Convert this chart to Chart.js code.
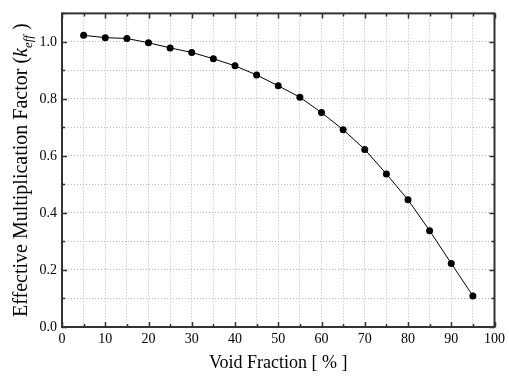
<!DOCTYPE html>
<html>
<head>
<meta charset="utf-8">
<script src="https://cdn.jsdelivr.net/npm/chart.js@4/dist/chart.umd.min.js"></script>
<style>
  html, body { margin: 0; padding: 0; background: #fff; }
  #wrap { width: 509px; height: 376px; }
</style>
</head>
<body>
<div id="wrap"><canvas id="c"></canvas></div>
<script>
// Data
const voidFraction = [5, 10, 15, 20, 25, 30, 35, 40, 45, 50, 55, 60, 65, 70, 75, 80, 85, 90, 95];
const keff = [1.023, 1.015, 1.012, 0.997, 0.979, 0.963, 0.941, 0.916, 0.884, 0.846, 0.806, 0.752, 0.692, 0.623, 0.537, 0.446, 0.338, 0.223, 0.109];
const xTickLabels = ['0', '10', '20', '30', '40', '50', '60', '70', '80', '90', '100'];
const yTickLabels = ['0.0', '0.2', '0.4', '0.6', '0.8', '1.0'];
const xTitle = 'Void Fraction [ % ]';
const yTitleParts = ['Effective Multiplication Factor (', 'k', 'eff', ')'];

const SERIF = '"Liberation Serif", "Times New Roman", serif';
const FRAME = '#333333';

const framePlugin = {
  id: 'frame',
  afterDraw(chart) {
    const ctx = chart.ctx;
    const a = chart.chartArea;
    const xs = chart.scales.x, ys = chart.scales.y;
    ctx.save();
    // inward ticks
    ctx.strokeStyle = FRAME;
    ctx.lineWidth = 1.5;
    ctx.beginPath();
    for (let v = 0; v <= 100; v += 5) {
      const px = Math.round(xs.getPixelForValue(v)) + 0.5;
      const len = (v % 10 === 0) ? 5 : 3;
      ctx.moveTo(px, a.bottom); ctx.lineTo(px, a.bottom - len);
      ctx.moveTo(px, a.top); ctx.lineTo(px, a.top + len);
    }
    for (let i = 0; i <= 11; i++) {
      const py = Math.round(ys.getPixelForValue(i / 10)) + 0.5;
      const len = (i % 2 === 0) ? 5 : 3;
      ctx.moveTo(a.left, py); ctx.lineTo(a.left + len, py);
      ctx.moveTo(a.right, py); ctx.lineTo(a.right - len, py);
    }
    ctx.stroke();
    // frame
    ctx.lineWidth = 2;
    ctx.strokeRect(a.left, a.top, a.right - a.left, a.bottom - a.top);

    // x title
    ctx.fillStyle = '#000';
    ctx.font = '18px ' + SERIF;
    ctx.textAlign = 'center';
    ctx.textBaseline = 'alphabetic';
    ctx.fillText(xTitle, (a.left + a.right) / 2, 368);

    // y title (rotated, mixed styles)
    const segs = [
      { t: yTitleParts[0], f: '20px ' + SERIF, dy: 0 },
      { t: yTitleParts[1], f: 'italic 20px ' + SERIF, dy: 0 },
      { t: yTitleParts[2], f: 'italic 13px ' + SERIF, dy: 5 },
      { t: ' ' + yTitleParts[3], f: '20px ' + SERIF, dy: 0 }
    ];
    let total = 0;
    segs.forEach(s => { ctx.font = s.f; s.w = ctx.measureText(s.t).width; total += s.w; });
    ctx.translate(27, (a.top + a.bottom) / 2);
    ctx.rotate(-Math.PI / 2);
    ctx.textAlign = 'left';
    let x = -total / 2;
    segs.forEach(s => { ctx.font = s.f; ctx.fillText(s.t, x, s.dy); x += s.w; });
    ctx.restore();
  }
};

new Chart(document.getElementById('c'), {
  type: 'scatter',
  data: {
    datasets: [{
      data: voidFraction.map((v, i) => ({ x: v, y: keff[i] })),
      showLine: true,
      borderColor: '#000',
      borderWidth: 1,
      backgroundColor: '#000',
      pointRadius: 3.5,
      pointHoverRadius: 3.5,
      pointBorderWidth: 0
    }]
  },
  options: {
    responsive: true,
    maintainAspectRatio: false,
    animation: false,
    events: [],
    layout: { padding: { top: 7, right: 9, left: 0, bottom: 0 } },
    plugins: { legend: { display: false }, tooltip: { enabled: false } },
    scales: {
      x: {
        type: 'linear',
        min: 0, max: 100,
        afterFit(s) { s.height = 49; },
        ticks: {
          stepSize: 5,
          autoSkip: false,
          maxRotation: 0,
          padding: 4,
          color: '#000',
          font: { family: SERIF, size: 14 },
          callback(v) {
            const i = xTickLabels.indexOf(String(v));
            return (v % 10 === 0 && i >= 0) ? xTickLabels[i] : '';
          }
        },
        grid: { color: '#b8b8b8', lineWidth: 1, drawTicks: false },
        border: { display: false, dash: [1, 2] }
      },
      y: {
        type: 'linear',
        min: 0, max: 1.1,
        afterFit(s) { s.width = 62; },
        afterBuildTicks(s) {
          s.ticks = [];
          for (let i = 0; i <= 11; i++) s.ticks.push({ value: i / 10 });
        },
        ticks: {
          autoSkip: false,
          padding: 5,
          color: '#000',
          font: { family: SERIF, size: 14 },
          callback(v) {
            const k = Math.round(v * 10);
            return (k % 2 === 0) ? (yTickLabels[k / 2] || '') : '';
          }
        },
        grid: { color: '#b8b8b8', lineWidth: 1, drawTicks: false },
        border: { display: false, dash: [1, 2] }
      }
    }
  },
  plugins: [framePlugin]
});
</script>
</body>
</html>
